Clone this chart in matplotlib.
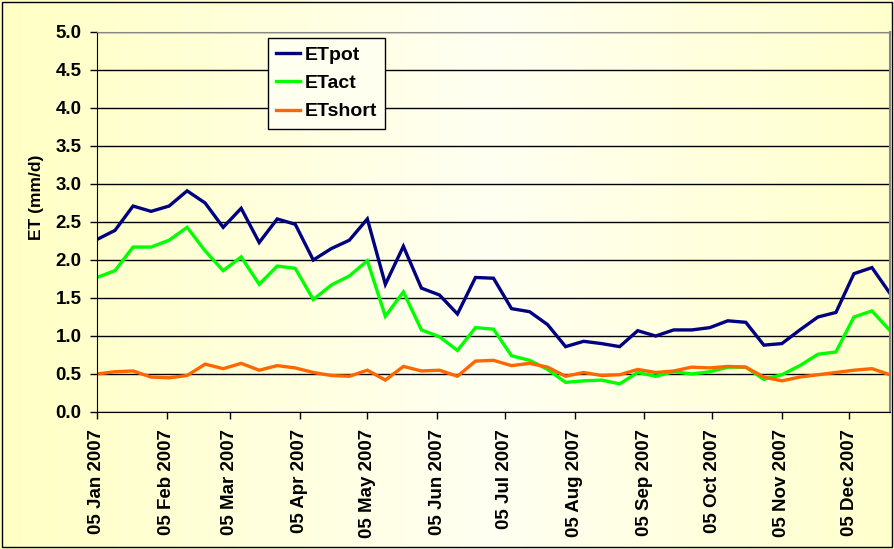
import numpy as np
import pandas as pd
import matplotlib
matplotlib.use("Agg")
import matplotlib.pyplot as plt
import matplotlib.dates as mdates
from matplotlib.patches import Rectangle

plt.rcParams['font.family'] = ['Liberation Sans', 'DejaVu Sans']

# ---- data (8-day composites, 2007) ----
start_date = "2007-01-05"
n_points = 45
step = "8D"
dates = pd.date_range(start_date, periods=n_points, freq=step)

et_pot = [2.27, 2.39, 2.71, 2.64, 2.71, 2.91, 2.75, 2.43, 2.68, 2.23,
          2.54, 2.47, 2.00, 2.15, 2.26, 2.54, 1.68, 2.18, 1.63, 1.54,
          1.29, 1.77, 1.76, 1.36, 1.32, 1.15, 0.86, 0.93, 0.90, 0.86,
          1.07, 1.00, 1.08, 1.08, 1.11, 1.20, 1.18, 0.88, 0.90, 1.08,
          1.25, 1.31, 1.82, 1.90, 1.56]
et_act = [1.77, 1.86, 2.17, 2.17, 2.26, 2.43, 2.12, 1.86, 2.04, 1.68,
          1.92, 1.89, 1.48, 1.67, 1.79, 1.99, 1.26, 1.58, 1.08, 0.99,
          0.81, 1.11, 1.09, 0.74, 0.68, 0.56, 0.39, 0.41, 0.42, 0.37,
          0.52, 0.47, 0.53, 0.50, 0.53, 0.59, 0.59, 0.43, 0.49, 0.61,
          0.76, 0.79, 1.25, 1.33, 1.07]
et_short = [0.50, 0.53, 0.54, 0.46, 0.45, 0.48, 0.63, 0.57, 0.64, 0.55,
            0.61, 0.58, 0.52, 0.48, 0.47, 0.55, 0.42, 0.60, 0.54, 0.55,
            0.47, 0.67, 0.68, 0.61, 0.64, 0.59, 0.47, 0.52, 0.48, 0.49,
            0.56, 0.52, 0.54, 0.59, 0.58, 0.60, 0.59, 0.46, 0.41, 0.46,
            0.49, 0.52, 0.55, 0.57, 0.49]
series_names = ["ETpot", "ETact", "ETshort"]
series_colors = ["#000080", "#00FF00", "#FF6600"]
y_ticks = [0.0, 0.5, 1.0, 1.5, 2.0, 2.5, 3.0, 3.5, 4.0, 4.5, 5.0]
x_tick_dates = pd.date_range("2007-01-01", "2007-12-01", freq="MS") + pd.Timedelta(days=4)
y_label = "ET (mm/d)"

W, H = 894, 549
fig = plt.figure(figsize=(W / 100, H / 100), dpi=100)

# background gradient (pale yellow -> cream -> pale yellow)
bg = fig.add_axes([0, 0, 1, 1], zorder=-10)
xs = np.linspace(0, 1, 400)
t = np.clip(1 - np.abs(xs - 0.55) / 0.55, 0, 1)
c_edge = np.array([255, 255, 196]) / 255
c_mid = np.array([255, 255, 242]) / 255
grad = c_edge[None, :] * (1 - t[:, None]) + c_mid[None, :] * t[:, None]
bg.imshow(grad[None, :, :], aspect='auto', extent=[0, 1, 0, 1])
bg.set_axis_off()
fig.patches.append(Rectangle((2 / W, 2 / H), 1 - 4 / W, 1 - 4 / H, transform=fig.transFigure,
                             fill=False, edgecolor='black', linewidth=1.0))

ax = fig.add_axes([97 / W, 1 - 412 / H, (890 - 97) / W, (412 - 32) / H])
ax.set_facecolor('none')

for vals, name, col in zip([et_pot, et_act, et_short], series_names, series_colors):
    ax.plot(dates, vals, color=col, linewidth=2.4, label=name, solid_joinstyle='miter')

ax.set_ylim(0, 5)
ax.set_yticks(y_ticks)
ax.set_yticklabels([f"{v:.1f}" for v in y_ticks])
ax.set_xlim(dates[0], dates[-1])
ax.set_xticks(x_tick_dates)
ax.xaxis.set_major_formatter(mdates.DateFormatter("%d %b %Y"))
ax.grid(axis='y', color='black', linewidth=1.0)
ax.set_axisbelow(True)

for lab in ax.get_xticklabels():
    lab.set_rotation(90)
for lab in ax.get_xticklabels() + ax.get_yticklabels():
    lab.set_fontweight('bold')
    lab.set_fontsize(13.5)
ax.tick_params(axis='y', direction='out', length=5, width=1, color='black', pad=6)
ax.tick_params(axis='x', direction='out', length=5, width=1, color='black', pad=7)
ax.set_ylabel(y_label, fontsize=12.5, fontweight='bold')
ax.yaxis.set_label_coords(-0.067, 0.566)

ax.spines['left'].set_color('black')
ax.spines['bottom'].set_color('black')
ax.spines['top'].set_color('#888888')
ax.spines['right'].set_color('#888888')
ax.spines['right'].set_linewidth(1.5)

leg = ax.legend(loc='upper left', bbox_to_anchor=(0.2156, 0.984), borderaxespad=0,
                frameon=True, fancybox=False, edgecolor='black', facecolor='#FFFFF0',
                framealpha=1, prop={'weight': 'bold', 'size': 14},
                handlelength=1.25, handletextpad=0.22, labelspacing=0.55, borderpad=0.42)
leg.get_frame().set_linewidth(1.0)

fig.savefig("out.png", dpi=100)
